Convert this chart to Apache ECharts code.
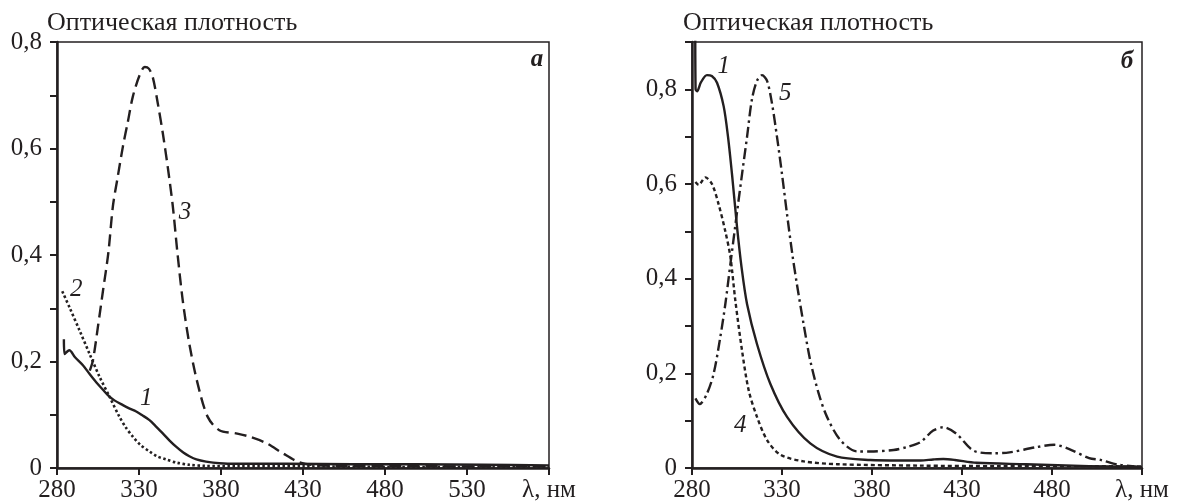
<!DOCTYPE html>
<html>
<head>
<meta charset="utf-8">
<script src="https://cdn.jsdelivr.net/npm/echarts@6/dist/echarts.min.js"></script>
<style>
html,body{margin:0;padding:0;background:#fff;}
#chart{width:1182px;height:503px;}
</style>
</head>
<body>
<div id="chart"></div>
<script>
// ---------- data: panel "а" ----------
const a1_x = [284.2, 284.6, 287.5, 291, 295.8, 300, 303.9, 308, 311, 315, 320.2, 324, 328.3, 332, 336.4, 340, 344.5, 348.5, 352.6, 357, 360.7, 365, 370.9, 379, 390, 420, 460, 500, 540, 580];
const a1_y = [0.242, 0.214, 0.221, 0.208, 0.193, 0.176, 0.161, 0.147, 0.137, 0.127, 0.118, 0.112, 0.106, 0.099, 0.090, 0.079, 0.065, 0.052, 0.040, 0.029, 0.022, 0.016, 0.012, 0.009, 0.008, 0.008, 0.007, 0.007, 0.006, 0.005];
const a2_x = [283.2, 287.7, 293.8, 299.9, 306, 312, 318.1, 322, 326.2, 331, 336.4, 341, 346.5, 353, 360.7, 370, 390, 430, 480, 530, 580];
const a2_y = [0.332, 0.301, 0.258, 0.214, 0.171, 0.134, 0.096, 0.076, 0.059, 0.043, 0.031, 0.022, 0.016, 0.010, 0.006, 0.004, 0.003, 0.003, 0.002, 0.002, 0.002];
const a3_x = [300, 301.9, 304.9, 308, 311.3, 314.1, 317.1, 320.2, 323.2, 326.2, 330.3, 333.5, 336, 338.4, 341.5, 344.5, 347.5, 350.6, 353.4, 356.7, 360.7, 365.8, 371.9, 379, 389.1, 397.2, 407.4, 417.5, 426.7, 435, 450, 480, 530, 580];
const a3_y = [0.183, 0.202, 0.264, 0.332, 0.404, 0.492, 0.548, 0.604, 0.650, 0.697, 0.737, 0.753, 0.750, 0.734, 0.684, 0.629, 0.566, 0.492, 0.405, 0.314, 0.233, 0.158, 0.096, 0.071, 0.065, 0.059, 0.047, 0.028, 0.012, 0.006, 0.004, 0.004, 0.003, 0.003];

// ---------- data: panel "б" ----------
const b1_x = [281.8, 282.0, 282.8, 285, 288.3, 291, 293.9, 297.6, 300, 302.5, 305, 307.5, 310.6, 316.1, 323.5, 332.8, 345.7, 360.6, 379.1, 395, 407, 414, 419.6, 426, 438, 465.6, 500.6, 530];
const b1_y = [0.95, 0.80, 0.796, 0.815, 0.830, 0.828, 0.814, 0.764, 0.700, 0.610, 0.510, 0.425, 0.346, 0.262, 0.178, 0.108, 0.052, 0.024, 0.017, 0.016, 0.016, 0.018, 0.019, 0.017, 0.011, 0.008, 0.004, 0.002];
const b4_x = [281.9, 283.7, 287.4, 291.1, 294.8, 298.5, 301.3, 304.1, 307.8, 311.5, 316.1, 321.7, 329.1, 342, 360.6, 406.9, 450, 500, 530];
const b4_y = [0.604, 0.598, 0.614, 0.600, 0.557, 0.500, 0.447, 0.353, 0.248, 0.164, 0.108, 0.059, 0.028, 0.014, 0.008, 0.005, 0.004, 0.004, 0.003];
const b5_x = [281.9, 284.3, 288.3, 292, 295.7, 298.5, 301.3, 305, 307.8, 310.6, 313.3, 316.1, 318.9, 321.7, 324.4, 327.2, 330, 332.8, 335.8, 338.3, 342, 345.7, 350.4, 355, 362.4, 371.7, 379, 392, 400, 406.7, 414, 419.6, 427, 436.2, 447.2, 456.4, 471.2, 481.3, 489.6, 500.6, 507, 517, 529];
const b5_y = [0.147, 0.135, 0.157, 0.199, 0.276, 0.346, 0.430, 0.540, 0.621, 0.700, 0.779, 0.818, 0.830, 0.818, 0.771, 0.700, 0.621, 0.536, 0.450, 0.388, 0.304, 0.227, 0.157, 0.108, 0.059, 0.035, 0.035, 0.038, 0.045, 0.054, 0.079, 0.086, 0.072, 0.037, 0.031, 0.033, 0.044, 0.049, 0.040, 0.021, 0.017, 0.007, 0.002];

// ---------- curve number labels ----------
const aLabelNames = ['1', '2', '3'];
const aLabelX = [334.4, 291.8, 358];
const aLabelY = [0.131, 0.335, 0.48];
const bLabelNames = ['1', '4', '5'];
const bLabelX = [297.6, 306.8, 331.8];
const bLabelY = [0.848, 0.091, 0.792];

// ---------- axes / text ----------
const aXRange = [280, 580];
const bXRange = [280, 530];
const aYRange = [0, 0.8];
const bYRange = [0, 0.9];
const xStep = 50;
const yStep = 0.1;
const xUnit = 'λ, нм';
const yTitle = 'Оптическая плотность';
const panelNames = ['а', 'б'];

// ---------- build ----------
const INK = '#231f20';
const FONT = 'Liberation Serif';
const zip = (xs, ys) => xs.map((x, i) => [x, ys[i]]);

function xAxisFor(idx, range) {
  return {
    type: 'value', gridIndex: idx, min: range[0], max: range[1], interval: xStep,
    axisLine: { show: true, onZero: false, lineStyle: { color: INK, width: 2.5 } },
    axisTick: { show: true, inside: false, length: 7, lineStyle: { color: INK, width: 2 } },
    splitLine: { show: false },
    axisLabel: {
      show: true, margin: 10, color: INK, fontFamily: FONT, fontSize: 25,
      showMinLabel: true, showMaxLabel: true,
      formatter: v => (Math.abs(v - range[1]) < 1e-6 ? xUnit : String(v))
    }
  };
}
function yAxisFor(idx, range) {
  return {
    type: 'value', gridIndex: idx, min: range[0], max: range[1], interval: yStep,
    axisLine: { show: true, onZero: false, lineStyle: { color: INK, width: 2.5 } },
    axisTick: { show: true, inside: false, length: 7, lineStyle: { color: INK, width: 2 } },
    splitLine: { show: false },
    axisLabel: {
      show: true, margin: 15, color: INK, fontFamily: FONT, fontSize: 25,
      showMinLabel: true, showMaxLabel: true,
      formatter: v => {
        const k = Math.round(v * 10);
        if (k % 2 !== 0) return '';
        return k === 0 ? '0' : (k / 10).toFixed(1).replace('.', ',');
      }
    }
  };
}
function curve(idx, xs, ys, dash, width) {
  return {
    type: 'line', xAxisIndex: idx, yAxisIndex: idx,
    data: zip(xs, ys), showSymbol: false, symbol: 'none', smooth: 0.3,
    clip: true, silent: true, animation: false,
    lineStyle: { color: INK, width: width || 2.4, type: dash, cap: 'butt', join: 'round' }
  };
}
function labels(idx, names, xs, ys) {
  return {
    type: 'scatter', xAxisIndex: idx, yAxisIndex: idx, symbolSize: 1, silent: true, animation: false,
    itemStyle: { color: 'rgba(0,0,0,0)' },
    data: names.map((n, i) => ({ name: n, value: [xs[i], ys[i]] })),
    label: {
      show: true, position: 'inside', formatter: p => p.name,
      fontFamily: FONT, fontStyle: 'italic', fontSize: 25, color: INK,
      textBorderWidth: 0, textBorderColor: 'transparent', opacity: 1
    }
  };
}

const option = {
  backgroundColor: '#ffffff',
  animation: false,
  grid: [
    { left: 57, top: 42, width: 492, height: 426, show: true, borderColor: INK, borderWidth: 1.5, backgroundColor: 'transparent' },
    { left: 692, top: 42, width: 450, height: 426, show: true, borderColor: INK, borderWidth: 1.5, backgroundColor: 'transparent' }
  ],
  xAxis: [xAxisFor(0, aXRange), xAxisFor(1, bXRange)],
  yAxis: [yAxisFor(0, aYRange), yAxisFor(1, bYRange)],
  series: [
    curve(0, a1_x, a1_y, 'solid', 2.4),
    curve(0, a2_x, a2_y, [2.5, 2.5], 2.6),
    curve(0, a3_x, a3_y, [12, 6], 2.4),
    labels(0, aLabelNames, aLabelX, aLabelY),
    curve(1, b1_x, b1_y, 'solid', 2.4),
    curve(1, b4_x, b4_y, [4, 3], 2.4),
    curve(1, b5_x, b5_y, [11, 4, 2.5, 4], 2.4),
    labels(1, bLabelNames, bLabelX, bLabelY)
  ],
  graphic: [
    { type: 'text', left: 47, top: 10, style: { text: yTitle, font: '26px "Liberation Serif"', fill: INK } },
    { type: 'text', left: 683, top: 10, style: { text: yTitle, font: '26px "Liberation Serif"', fill: INK } },
    { type: 'text', x: 537, y: 60, style: { text: panelNames[0], font: 'italic bold 25px "Liberation Serif"', fill: INK, align: 'center', verticalAlign: 'middle' } },
    { type: 'text', x: 1127, y: 62, style: { text: panelNames[1], font: 'italic bold 25px "Liberation Serif"', fill: INK, align: 'center', verticalAlign: 'middle' } }
  ]
};

const chart = echarts.init(document.getElementById('chart'), null, { renderer: 'canvas' });
chart.setOption(option);
</script>
</body>
</html>
